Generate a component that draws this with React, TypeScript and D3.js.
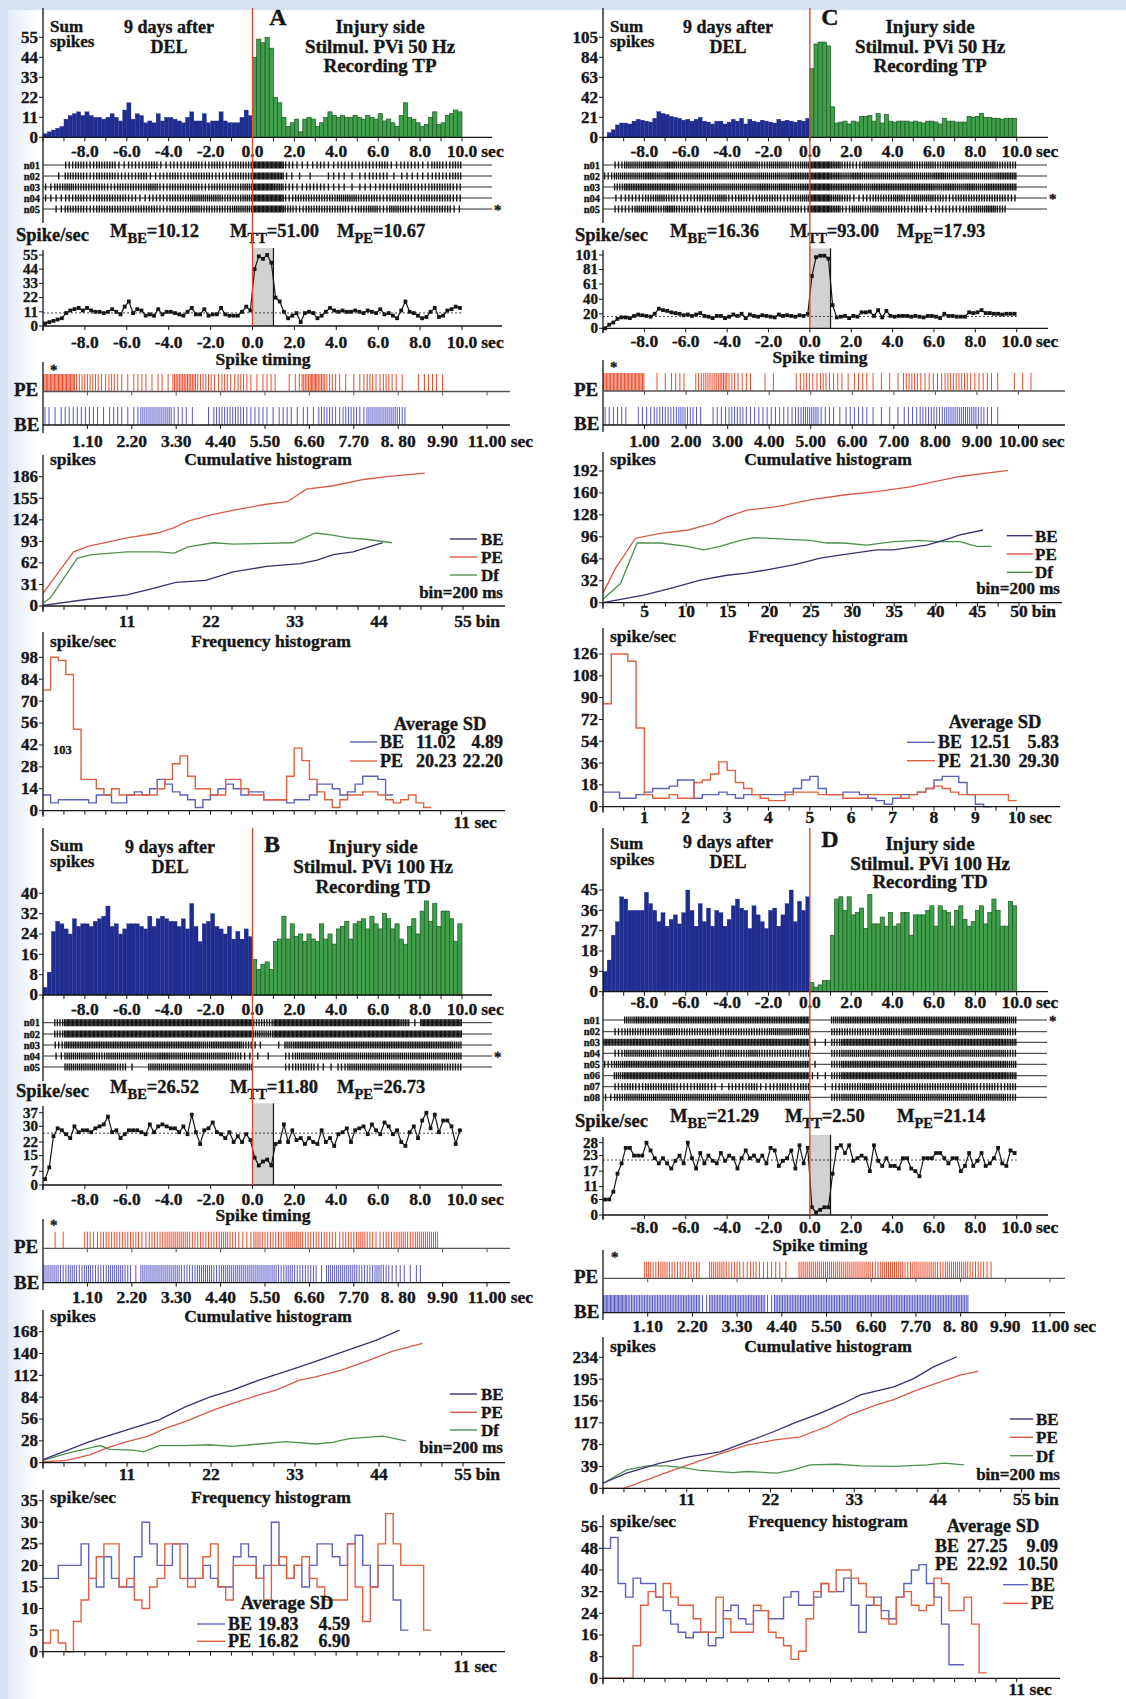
import * as React from "react";
import * as d3 from "d3";

const FONT = "'Liberation Serif', 'Times New Roman', serif";
const INK = "#161616";
const NAVY = "#1f2d8e";
const GREEN = "#3f9f4b";
const GREEN_EDGE = "#1b5a22";
const RED = "#e04a2e";
const TIME_PE = "#ec4b2c";
const TIME_BE = "#5656c6";
const CUM_BE = "#3c2f6e";
const CUM_PE = "#d95a47";
const CUM_DF = "#4f8f4f";
const FREQ_BE = "#5c63b8";
const FREQ_PE = "#e2603e";

// ---- sum-spike histograms, 0.2 s bins from -10 to 10 s
const histA = [
  2, 3, 4, 5, 6, 10, 12, 13, 14, 12, 14, 12, 11, 11, 10, 11, 13, 11, 9, 15,
  19, 10, 13, 12, 8, 9, 8, 13, 9, 11, 11, 10, 9, 8, 11, 14, 9, 9, 13, 8,
  9, 9, 14, 9, 8, 8, 8, 11, 15, 12,
  44, 54, 52, 55, 49, 22, 19, 11, 6, 8, 10, 3, 10, 11, 10, 6, 8, 11, 14, 12,
  11, 12, 11, 11, 12, 11, 10, 12, 11, 10, 13, 9, 10, 8, 6, 12, 19, 11, 10, 8,
  6, 7, 11, 14, 7, 8, 12, 13, 15, 14,
];
const histB = [
  3, 9, 25, 29, 28, 26, 24, 30, 27, 28, 28, 27, 29, 30, 31, 35, 27, 28, 24, 26,
  28, 28, 28, 27, 26, 31, 27, 30, 31, 30, 29, 29, 27, 30, 26, 36, 27, 21, 28, 29,
  32, 27, 26, 24, 27, 22, 25, 22, 26, 23,
  14, 10, 12, 13, 10, 21, 22, 31, 22, 28, 23, 24, 21, 24, 22, 21, 28, 22, 24, 20,
  26, 27, 29, 22, 28, 29, 30, 26, 31, 28, 26, 32, 30, 26, 28, 22, 20, 27, 30, 24,
  33, 37, 29, 36, 27, 33, 33, 30, 21, 28,
];
const histC = [
  0, 5, 8, 13, 15, 15, 14, 17, 19, 18, 17, 16, 20, 27, 25, 24, 22, 21, 20, 18,
  19, 17, 19, 21, 17, 16, 14, 17, 17, 14, 16, 19, 17, 20, 14, 19, 17, 16, 18, 17,
  16, 15, 19, 17, 18, 17, 16, 18, 17, 20,
  72, 98, 100, 100, 96, 32, 15, 16, 17, 14, 17, 16, 22, 22, 23, 17, 25, 15, 24, 17,
  16, 17, 17, 17, 16, 17, 16, 15, 17, 17, 16, 14, 20, 17, 17, 16, 16, 16, 22, 21,
  22, 25, 21, 21, 20, 20, 19, 20, 20, 20,
];
const histD = [
  9, 14, 25, 31, 42, 41, 36, 36, 36, 36, 44, 39, 36, 31, 35, 29, 32, 34, 30, 35,
  45, 36, 29, 39, 31, 37, 29, 36, 35, 29, 32, 38, 41, 37, 36, 28, 38, 34, 31, 28,
  36, 37, 29, 34, 39, 45, 31, 40, 36, 42,
  4, 2, 3, 5, 5, 25, 41, 42, 36, 42, 34, 35, 37, 28, 43, 30, 30, 33, 29, 35,
  29, 30, 35, 35, 25, 34, 34, 34, 36, 38, 29, 38, 36, 35, 29, 36, 38, 32, 29, 31,
  36, 38, 30, 35, 41, 36, 29, 29, 40, 38,
];
// spike/sec of panel D (8 neurons, differs from its sum histogram)
const rateD = [
  6, 6, 9, 16, 20, 26, 26, 23, 23, 23, 28, 25, 22, 20, 22, 20, 18, 21, 23, 20,
  28, 22, 18, 24, 20, 23, 21, 20, 24, 21, 23, 22, 18, 22, 25, 22, 23, 21, 23, 20,
  26, 25, 19, 21, 22, 25, 18, 27, 20, 26,
  3, 1, 2, 3, 3, 16, 26, 27, 24, 27, 21, 22, 23, 22, 17, 27, 21, 19, 22, 19,
  19, 18, 22, 22, 18, 17, 15, 22, 22, 22, 24, 24, 22, 20, 22, 22, 17, 19, 24, 19,
  21, 24, 19, 20, 22, 26, 20, 19, 25, 24,
];

// ---- raster rows: spikes per 0.5 s from -10 to 10 s
const rasterA = [
  "00343442334233434344" + "88832232333342332434",
  "01443443342343443344" + "88721102212331222334",
  "24544434445344434445" + "88632332212233433443",
  "22343444323344555445" + "88834444554434434443",
  "02443444444344544455" + "88843444434535434442",
];
const rasterB = [
  "04888888888888888888" + "44888888888888618888",
  "04888888888888888888" + "55888888888888888888",
  "03666666666666656664" + "20156666666666666665",
  "02555455555655555542" + "11035555555555555555",
  "00555554105555555555" + "00034421355555555544",
];
const rasterC = [
  "03556565555545545545" + "88643555554545555544",
  "35556565555555555566" + "88656555555565555566",
  "04666665555555565656" + "88666566666656565666",
  "02334543344534344345" + "88542344545543444443",
  "03355464434444454443" + "88635454434233345640",
];
const rasterD = [
  "00566666666666666667" + "00566666666666666665",
  "03444454444444445555" + "00444445455555555554",
  "77777777777777777777" + "11477777777777777776",
  "03555455555454544444" + "00455555555555555554",
  "35666666666666666666" + "10466666666666666665",
  "05777777777777777777" + "21477777777777777776",
  "03434443343133423434" + "01344544444444443434",
  "24555555555555555555" + "00455555555555555554",
];

// ---- spike timing: spikes per 0.2 s from 0 to 11 s
const timingA = {
  pe: "66663 33232 12212 15553 32323 21220 12565 32112 32321 01221 00000",
  be: "21222 22122 12444 42210 13333 22212 21213 32332 44443 00000 00000",
};
const timingB = {
  pe: "01100 32333 33233 44433 33432 24333 44333 32334 32334 34440 00000",
  be: "44343 43344 31444 44334 43444 44443 43331 44443 34322 12000 00000",
};
const timingC = {
  pe: "66666 01122 03445 32201 10023 23221 22111 13322 23332 22101 11000",
  be: "22202 23334 32022 33222 22234 42212 22111 12233 34444 32100 00000",
};
const timingD = {
  pe: "00000 43433 33044 33232 22104 44444 44434 44344 43444 33200 00000",
  be: "66655 55555 55255 55555 25555 55555 55555 55555 55555 00000 00000",
};

// ---- cumulative histograms: [bin, spikes]
const cumA_BE = [[0, 1], [5.4, 9], [11, 16], [14.3, 25], [17.4, 34], [21.3, 37], [24.9, 49], [29.3, 57], [33.7, 61], [35.9, 66], [38, 74], [40.6, 78], [44.5, 91]];
const cumA_PE = [[0, 18], [4, 78], [6, 86], [11, 98], [15, 105], [17, 112], [19, 122], [22, 131], [25, 138], [29, 146], [32, 150], [34.5, 168], [38, 173], [42, 182], [45, 186], [50, 191]];
const cumA_DF = [[0, 4], [1, 12], [4.5, 69], [6.4, 74], [11, 78], [15, 78], [17.2, 76], [19, 85], [22.3, 91], [24.9, 89], [29.3, 90], [32.7, 91], [35.7, 105], [37.9, 102], [40, 98], [42.3, 96], [45.7, 91]];
const cumB_BE = [[0, 4], [6.1, 27], [11, 42], [15.2, 55], [18.7, 72], [21.8, 84], [24.8, 93], [28.3, 106], [33, 121], [35.7, 130], [40.1, 145], [43.6, 157], [46.7, 170]];
const cumB_PE = [[0, 1], [3.1, 3], [6.1, 10], [8.7, 20], [11, 27], [13.8, 34], [16, 44], [18.7, 53], [22.2, 67], [24.8, 76], [28.3, 87], [30.5, 93], [33.6, 106], [35.7, 110], [39.2, 119], [42.3, 130], [45.8, 143], [49.7, 153]];
const cumB_DF = [[0, 3], [3.1, 12], [6.6, 20], [7.5, 22], [8.7, 17], [11.8, 16], [13.2, 14], [15.2, 22], [18.3, 22], [21.8, 23], [24.8, 21], [28.3, 24], [31.8, 27], [35.7, 24], [37.9, 26], [40.1, 31], [44.5, 34], [47.5, 28]];
const cumC_BE = [[0, 0], [4.9, 11], [8.1, 21], [11.7, 33], [14.9, 40], [17.3, 43], [19.7, 48], [22.9, 55], [24.5, 60], [26.1, 65], [28.9, 70], [32.9, 77], [34.9, 77], [38.9, 84], [40.9, 91], [42.9, 99], [45.7, 106]];
const cumC_PE = [[0, 14], [1.5, 50], [3.9, 94], [6.9, 101], [10.3, 106], [11.7, 111], [13.3, 116], [14.9, 125], [17.3, 135], [20.9, 140], [24.9, 150], [28.9, 157], [32.9, 162], [36.9, 169], [39.7, 176], [42.9, 184], [48.7, 193]];
const cumC_DF = [[0, 5], [2.1, 28], [4.1, 87], [6.9, 87], [10.1, 82], [12.1, 77], [14.1, 82], [16.5, 91], [18.1, 95], [22.9, 92], [24.9, 91], [26.9, 87], [28.9, 87], [31.7, 84], [34.9, 89], [38.1, 91], [40.1, 89], [42.9, 89], [44.9, 82], [46.7, 82]];
const cumD_BE = [[0, 9], [3.1, 27], [7.5, 45], [11.2, 56], [15.4, 65], [18.9, 83], [22.4, 101], [25, 116], [28.5, 134], [31.6, 152], [33.8, 167], [38.2, 181], [40.8, 196], [43.4, 217], [46.5, 235]];
const cumD_PE = [[0, 0], [2.7, 0], [4, 6], [7.5, 24], [11.2, 42], [15.4, 62], [18.9, 77], [22.4, 86], [25.9, 92], [27.6, 101], [29.4, 110], [32.4, 131], [35.9, 149], [38.1, 158], [40.8, 173], [44.3, 190], [46.9, 202], [49.3, 209]];
const cumD_DF = [[0, 9], [3.1, 33], [5.8, 40], [8.4, 40], [11, 36], [12.7, 32], [17.1, 28], [18.9, 30], [22.8, 27], [25, 33], [27.2, 42], [30.7, 43], [33.8, 40], [38.2, 39], [42.6, 42], [44.8, 45], [47.4, 42]];

// ---- frequency histograms, spike/sec per 0.2 s bin
const freqA_BE = [10, 5, 7, 7, 7, 7, 5, 10, 10, 5, 5, 10, 12, 10, 14, 20, 17, 12, 10, 7, 2, 7, 10, 14, 17, 14, 10, 12, 12, 7, 7, 7, 5, 7, 7, 10, 17, 17, 14, 10, 12, 17, 22, 22, 20, 10];
const freqA_PE = [77, 98, 96, 87, 52, 20, 20, 14, 10, 14, 10, 10, 10, 10, 10, 14, 20, 30, 35, 22, 14, 14, 10, 10, 20, 20, 14, 10, 10, 7, 7, 7, 22, 40, 32, 20, 12, 7, 2, 7, 10, 10, 12, 12, 10, 7, 5, 7, 10, 5, 2];
const freqB_BE = [17, 17, 20, 20, 20, 25, 17, 15, 22, 17, 15, 15, 22, 30, 25, 20, 20, 25, 25, 17, 17, 20, 17, 15, 15, 22, 25, 22, 17, 20, 30, 20, 17, 20, 15, 20, 25, 25, 22, 20, 25, 27, 20, 15, 20, 20, 12, 5];
const freqB_PE = [2, 5, 2, 0, 7, 12, 17, 22, 25, 25, 15, 17, 12, 10, 15, 17, 25, 25, 17, 15, 17, 22, 25, 15, 12, 20, 20, 20, 17, 12, 20, 22, 17, 20, 22, 17, 15, 12, 12, 12, 25, 15, 7, 15, 25, 32, 25, 20, 20, 20, 5];
const freqC_BE = [12, 12, 7, 7, 10, 12, 15, 15, 17, 22, 22, 7, 10, 10, 12, 10, 7, 10, 10, 10, 10, 10, 12, 15, 22, 25, 15, 10, 10, 12, 12, 10, 7, 5, 2, 7, 10, 10, 12, 15, 22, 25, 25, 20, 10, 2, 0];
const freqC_PE = [85, 126, 126, 120, 65, 10, 7, 7, 10, 7, 7, 20, 22, 27, 37, 30, 20, 15, 10, 7, 5, 5, 10, 12, 12, 12, 10, 10, 10, 7, 7, 7, 10, 10, 10, 10, 7, 10, 12, 15, 17, 15, 12, 10, 10, 10, 10, 10, 10, 5];
const freqD_BE = [48, 52, 35, 30, 37, 35, 35, 30, 25, 20, 17, 15, 17, 17, 12, 15, 25, 27, 22, 20, 25, 25, 22, 22, 30, 32, 27, 27, 30, 35, 32, 32, 37, 27, 17, 27, 30, 25, 22, 30, 35, 40, 42, 35, 30, 20, 5, 5];
const freqD_PE = [0, 0, 0, 0, 12, 27, 32, 30, 35, 30, 27, 27, 22, 17, 17, 30, 22, 17, 17, 17, 27, 25, 17, 15, 12, 7, 10, 22, 32, 35, 32, 40, 40, 37, 35, 30, 27, 22, 20, 30, 32, 27, 25, 27, 37, 35, 25, 25, 30, 20, 2];

// ---- tick labels
const histTimeLabels = ["-8.0", "-6.0", "-4.0", "-2.0", "0.0", "2.0", "4.0", "6.0", "8.0", "10.0"];
const timing11Labels = ["1.10", "2.20", "3.30", "4.40", "5.50", "6.60", "7.70", "8. 80", "9.90", "11.00"];
const timing10Labels = ["1.00", "2.00", "3.00", "4.00", "5.00", "6.00", "7.00", "8.00", "9.00", "10.00"];
const rowNames = ["n01", "n02", "n03", "n04", "n05", "n06", "n07", "n08"];

const estW = (s: string, size: number) => {
  let w = 0;
  for (const ch of s) {
    if (/[0-9]/.test(ch)) w += 0.5;
    else if (ch === "." || ch === " ") w += 0.25;
    else if (ch === "-") w += 0.333;
    else w += 0.55;
  }
  return w * size;
};

const spread = (code: string, start: number, span: number) => {
  const out: number[] = [];
  code.replace(/ /g, "").split("").forEach((ch, k) => {
    const n = +ch;
    for (let j = 0; j < n; j++) out.push(start + span * k + ((j + 0.5) * span) / n);
  });
  return out;
};

const Txt = ({ x, y, s = 17.5, a = "start", fill = INK, children }: any) => (
  <text
    x={x}
    y={y}
    fontSize={s}
    textAnchor={a}
    fill={fill}
    stroke={fill}
    strokeWidth={0.35}
    fontFamily={FONT}
    fontWeight={700}
  >
    {children}
  </text>
);

const NumUnit = ({ x, y, num, unit, s = 17.5 }: any) => (
  <g>
    <Txt x={x} y={y} s={s} a="middle">{num}</Txt>
    <Txt x={x + estW(num, s) / 2 + 4} y={y} s={s}>{unit}</Txt>
  </g>
);

const YAxis = ({ x, top, bottom, scale, ticks, s = 17 }: any) => (
  <g>
    <line x1={x} x2={x} y1={top} y2={bottom} stroke={INK} strokeWidth={1.3} />
    {ticks.map((v: number) => (
      <g key={v}>
        <line x1={x - 4} x2={x} y1={scale(v)} y2={scale(v)} stroke={INK} strokeWidth={1} />
        <Txt x={x - 5} y={scale(v) + s * 0.32} s={s} a="end">{v}</Txt>
      </g>
    ))}
  </g>
);

const XBase = ({ x0, x1, y, ticks, color = INK }: any) => (
  <g>
    <line x1={x0} x2={x1} y1={y} y2={y} stroke={color} strokeWidth={1.3} />
    {ticks.map((px: number, i: number) => (
      <line key={i} x1={px} x2={px} y1={y} y2={y + 4} stroke={color} strokeWidth={1} />
    ))}
  </g>
);

const MText = ({ x, y, sub, val }: any) => (
  <text x={x} y={y} fontFamily={FONT} fontWeight={700} fill={INK} stroke={INK} strokeWidth={0.35} fontSize={18.5}>
    M
    <tspan fontSize={14.5} dy={6}>{sub}</tspan>
    <tspan dy={-6}>={val}</tspan>
  </text>
);

function Panel({ p }: any) {
  const t = d3.scaleLinear().domain([-10, 10]).range([p.ax, p.tx1]);
  const hy = d3.scaleLinear().domain([0, p.histMax]).range([p.histBase, p.histMaxY]);
  const bw = t(-9.8) - t(-10);
  const ly = d3.scaleLinear().domain([0, p.lineMax]).range([p.lineBase, p.lineMaxY]);
  const ts = d3.scaleLinear().domain([0, p.tsMax]).range([p.ax, p.tsX1]);
  const cx = d3.scaleLinear().domain([0, p.cumBins]).range([p.ax, p.cumX1]);
  const cy = d3.scaleLinear().domain([0, p.cumMax]).range([p.cumBase, p.cumMaxY]);
  const fx = d3.scaleLinear().domain([0, p.fMax]).range([p.ax, p.fX1]);
  const fy = d3.scaleLinear().domain([0, p.fYMax]).range([p.fBase, p.fYMaxY]);

  const linePts = p.line.map((v: number, i: number) => [t(-9.9 + 0.2 * i), ly(v)] as [number, number]);
  const lineGen = d3.line();
  const cumPath = (d: number[][]) => lineGen(d.map((q) => [cx(q[0]), cy(q[1])] as [number, number])) ?? "";
  const stepGen = d3.line().curve(d3.curveStepAfter);
  const stepPath = (vals: number[]) =>
    stepGen([
      ...vals.map((v, i) => [fx(i * 0.2), fy(v)] as [number, number]),
      [fx(vals.length * 0.2), fy(vals[vals.length - 1])] as [number, number],
    ]) ?? "";

  const histTicks = d3.range(-10, 10.01, 1).map((v) => t(v));
  const rowBottom = p.rowY[p.rowY.length - 1] + 14;
  const peTicks = spread(p.timing.pe, 0, 0.2);
  const beTicks = spread(p.timing.be, 0, 0.2);
  const L = p.cumLeg;
  const F = p.fLeg;

  return (
    <g>
      {/* header */}
      <Txt x={p.colX[0]} y={p.sumY[0]} s={17}>Sum</Txt>
      <Txt x={p.colX[0]} y={p.sumY[1]} s={17}>spikes</Txt>
      <Txt x={p.colX[1]} y={p.daysY[0]} a="middle" s={18}>9 days after</Txt>
      <Txt x={p.colX[1]} y={p.daysY[1]} a="middle" s={18}>DEL</Txt>
      <Txt x={p.colX[2]} y={p.letterY} a="middle" s={24}>{p.letter}</Txt>
      <Txt x={p.colX[3]} y={p.injY[0]} a="middle" s={19}>Injury side</Txt>
      <Txt x={p.colX[3]} y={p.injY[1]} a="middle" s={19}>{`Stilmul. PVi ${p.hz} Hz`}</Txt>
      <Txt x={p.colX[3]} y={p.injY[2]} a="middle" s={19}>{`Recording ${p.rec}`}</Txt>

      {/* sum spikes histogram */}
      {p.hist.map((v: number, i: number) => (
        <rect
          key={i}
          x={t(-10 + 0.2 * i)}
          y={hy(v)}
          width={bw}
          height={p.histBase - hy(v)}
          fill={i < 50 ? NAVY : GREEN}
          stroke={i < 50 ? NAVY : GREEN_EDGE}
          strokeWidth={i < 50 ? 0.3 : 0.7}
        />
      ))}
      <YAxis x={p.ax} top={p.redTop} bottom={rowBottom} scale={hy} ticks={p.histTicks} />
      <XBase x0={p.ax} x1={p.hAxisEnd} y={p.histBase} ticks={histTicks} />
      {histTimeLabels.map((s, i) =>
        i === histTimeLabels.length - 1 ? (
          <NumUnit key={s} x={t(-8 + 2 * i)} y={p.hLabY} num={s} unit="sec" />
        ) : (
          <Txt key={s} x={t(-8 + 2 * i)} y={p.hLabY} a="middle">{s}</Txt>
        ),
      )}

      {/* raster */}
      {p.rows.map((code: string, r: number) => {
        const y = p.rowY[r];
        return (
          <g key={r}>
            <line x1={p.ax} x2={p.rowEnd} y1={y} y2={y} stroke="#2a2a2a" strokeWidth={1} />
            {spread(code, -10, 0.5).map((tt, j) => (
              <line key={j} x1={t(tt)} x2={t(tt)} y1={y - 3.5} y2={y + 3.5} stroke={INK} strokeWidth={1.4} />
            ))}
            <Txt x={p.ax - 3} y={y + 3.5} s={10.5} a="end">{rowNames[r]}</Txt>
            {r === p.starRow && <Txt x={p.starX} y={y + 6} s={15}>*</Txt>}
          </g>
        );
      })}

      {/* spike/sec plot */}
      <Txt x={p.spsXY[0]} y={p.spsXY[1]} s={18.5}>Spike/sec</Txt>
      <MText x={p.mX[0]} y={p.mY} sub="BE" val={p.mVals[0]} />
      <MText x={p.mX[1]} y={p.mY} sub="TT" val={p.mVals[1]} />
      <MText x={p.mX[2]} y={p.mY} sub="PE" val={p.mVals[2]} />
      <rect x={t(0)} y={p.grayTop} width={t(1) - t(0)} height={p.lineBase - p.grayTop} fill="#d2d2d4" />
      <line x1={t(1)} x2={t(1)} y1={p.grayTop} y2={p.lineBase} stroke={INK} strokeWidth={1.2} />
      <line x1={p.ax} x2={t(10)} y1={ly(p.mean)} y2={ly(p.mean)} stroke="#333" strokeWidth={0.9} strokeDasharray="2 2" />
      <path d={lineGen(linePts) ?? ""} fill="none" stroke={INK} strokeWidth={1.2} />
      {linePts.map((q: [number, number], i: number) => (
        <rect key={i} x={q[0] - 1.9} y={q[1] - 1.9} width={3.8} height={3.8} fill={INK} />
      ))}
      <YAxis x={p.ax} top={p.lineTop} bottom={p.lineBase + 5} scale={ly} ticks={p.lineTicks} s={15} />
      <XBase x0={p.ax} x1={p.lAxisEnd} y={p.lineBase} ticks={d3.range(-10, 10.01, 2).map((v) => t(v))} />
      {histTimeLabels.map((s, i) =>
        i === histTimeLabels.length - 1 ? (
          <NumUnit key={s} x={t(-8 + 2 * i)} y={p.lLabY} num={s} unit="sec" />
        ) : (
          <Txt key={s} x={t(-8 + 2 * i)} y={p.lLabY} a="middle">{s}</Txt>
        ),
      )}
      <line x1={t(0)} x2={t(0)} y1={p.redTop} y2={p.lineBase} stroke={RED} strokeWidth={1.4} />

      {/* spike timing */}
      <Txt x={p.tsTitle[0]} y={p.tsTitle[1]} a="middle">Spike timing</Txt>
      <Txt x={p.starXY[0]} y={p.starXY[1]} s={15}>*</Txt>
      {peTicks.map((tt, j) => (
        <line key={"p" + j} x1={ts(tt)} x2={ts(tt)} y1={p.peY[0]} y2={p.peY[1]} stroke={TIME_PE} strokeWidth={1} />
      ))}
      {beTicks.map((tt, j) => (
        <line key={"b" + j} x1={ts(tt)} x2={ts(tt)} y1={p.beY[0]} y2={p.beY[1]} stroke={TIME_BE} strokeWidth={1} />
      ))}
      <line x1={p.ax} x2={p.ax} y1={p.tsTop} y2={p.tsBottom} stroke={INK} strokeWidth={1.3} />
      <XBase x0={p.ax} x1={p.tsAxisEnd} y={p.peY[1]} ticks={p.tsLabels.map((_: string, i: number) => ts((i + 1) * p.tsStep))} color="#555" />
      <XBase x0={p.ax} x1={p.tsAxisEnd} y={p.beY[1]} ticks={p.tsLabels.map((_: string, i: number) => ts((i + 1) * p.tsStep))} />
      <Txt x={p.peLab[0]} y={p.peLab[1]} s={19}>PE</Txt>
      <Txt x={p.beLab[0]} y={p.beLab[1]} s={19}>BE</Txt>
      {p.tsLabels.map((s: string, i: number) =>
        i === p.tsLabels.length - 1 ? (
          <NumUnit key={s} x={ts((i + 1) * p.tsStep)} y={p.tsLabY} num={s} unit="sec" />
        ) : (
          <Txt key={s} x={ts((i + 1) * p.tsStep)} y={p.tsLabY} a="middle">{s}</Txt>
        ),
      )}

      {/* cumulative histogram */}
      <Txt x={p.ax + 7} y={p.cumTitleY}>spikes</Txt>
      <Txt x={p.cumTitleX} y={p.cumTitleY} a="middle">Cumulative histogram</Txt>
      <path d={cumPath(p.cumPE)} fill="none" stroke={CUM_PE} strokeWidth={1.3} />
      <path d={cumPath(p.cumDF)} fill="none" stroke={CUM_DF} strokeWidth={1.3} />
      <path d={cumPath(p.cumBE)} fill="none" stroke={CUM_BE} strokeWidth={1.3} />
      <YAxis x={p.ax} top={p.cumTop} bottom={p.cumBase + 6} scale={cy} ticks={p.cumTicks} />
      <XBase x0={p.ax} x1={p.cumAxisEnd} y={p.cumBase} ticks={d3.range(0, p.cumBins + 0.01, p.cumStep).map((v) => cx(v))} />
      {p.cumLabels.map((v: number) => (
        <Txt key={v} x={cx(v)} y={p.cumLabY} a="middle">{v}</Txt>
      ))}
      <NumUnit x={cx(p.cumBins)} y={p.cumLabY} num={String(p.cumBins)} unit="bin" />
      {[["BE", CUM_BE], ["PE", CUM_PE], ["Df", CUM_DF]].map(([name, c], i) => (
        <g key={name}>
          <line x1={L.x1} x2={L.x2} y1={L.ys[i] - 6} y2={L.ys[i] - 6} stroke={c} strokeWidth={1.4} />
          <Txt x={L.tx} y={L.ys[i]} s={17}>{name}</Txt>
        </g>
      ))}
      <Txt x={L.binX} y={L.binY} a="end" s={17}>bin=200 ms</Txt>

      {/* frequency histogram */}
      <Txt x={p.ax + 7} y={p.fTitleY}>spike/sec</Txt>
      <Txt x={p.fTitleX} y={p.fTitleY} a="middle">Frequency histogram</Txt>
      <path d={stepPath(p.fBE)} fill="none" stroke={FREQ_BE} strokeWidth={1.4} />
      <path d={stepPath(p.fPE)} fill="none" stroke={FREQ_PE} strokeWidth={1.4} />
      <YAxis x={p.ax} top={p.fTop} bottom={p.fBase + 6} scale={fy} ticks={p.fTicks} />
      <XBase x0={p.ax} x1={p.fAxisEnd} y={p.fBase} ticks={d3.range(0, p.fMax + 0.01, p.fStep).map((v) => fx(v))} />
      {p.fLabels.map((v: number) => (
        <Txt key={v} x={fx(v)} y={p.fLabY} a="middle">{v}</Txt>
      ))}
      <NumUnit x={fx(p.fMax)} y={p.fLabY} num={String(p.fMax)} unit="sec" />
      {p.note && <Txt x={p.note[0]} y={p.note[1]} s={12.5}>103</Txt>}
      <Txt x={F.titleX} y={F.titleY} a="middle" s={18.5}>Average SD</Txt>
      {[["BE", FREQ_BE, F.be], ["PE", FREQ_PE, F.pe]].map(([name, c, vals]: any, i) => (
        <g key={name}>
          {F.lx && <line x1={F.lx[0]} x2={F.lx[1]} y1={F.ys[i] - 6} y2={F.ys[i] - 6} stroke={c} strokeWidth={1.4} />}
          <Txt x={F.labX} y={F.ys[i]} s={18}>{name}</Txt>
          <Txt x={F.v1X} y={F.ys[i]} s={18}>{vals[0]}</Txt>
          <Txt x={F.v2X} y={F.ys[i]} s={18} a="end">{vals[1]}</Txt>
        </g>
      ))}
      {F.extra &&
        [["BE", FREQ_BE], ["PE", FREQ_PE]].map(([name, c], i) => (
          <g key={"x" + name}>
            <line x1={F.extra.x1} x2={F.extra.x2} y1={F.extra.ys[i] - 6} y2={F.extra.ys[i] - 6} stroke={c} strokeWidth={1.4} />
            <Txt x={F.extra.tx} y={F.extra.ys[i]} s={18}>{name}</Txt>
          </g>
        ))}
    </g>
  );
}

const specA = {
  letter: "A", hz: "50", rec: "TP", ax: 43, tx1: 462,
  colX: [50, 169, 278, 380], sumY: [32, 47], daysY: [33, 53], letterY: 25, injY: [33, 53, 72], redTop: 8,
  hist: histA, histBase: 137.3, histMax: 55, histMaxY: 37.3, histTicks: [0, 11, 22, 33, 44, 55], hAxisEnd: 492, hLabY: 157,
  rows: rasterA, rowY: [165, 176, 187, 198, 209], starRow: 4, starX: 494, rowEnd: 492,
  line: histA, lineBase: 326, lineMax: 55, lineMaxY: 255, lineTicks: [0, 11, 22, 33, 44, 55], grayTop: 248, lineTop: 250,
  lAxisEnd: 502, lLabY: 348, spsXY: [16, 241], mY: 237, mX: [110, 230, 337], mVals: ["10.12", "51.00", "10.67"], mean: 10.12,
  timing: timingA, tsMax: 11, tsX1: 487, tsStep: 1.1, tsLabels: timing11Labels, tsTitle: [263, 365], starXY: [50, 375],
  peY: [374, 391.5], beY: [407, 425], peLab: [14, 396], beLab: [14, 431], tsLabY: 447, tsAxisEnd: 510, tsTop: 362, tsBottom: 433,
  cumTitleX: 268, cumTitleY: 465, cumBase: 606, cumMax: 186, cumMaxY: 476.7, cumTicks: [0, 31, 62, 93, 124, 155, 186],
  cumBins: 55, cumX1: 463, cumStep: 2.75, cumLabels: [11, 22, 33, 44], cumLabY: 627, cumAxisEnd: 505, cumTop: 455,
  cumBE: cumA_BE, cumPE: cumA_PE, cumDF: cumA_DF,
  cumLeg: { x1: 450, x2: 477, tx: 481, ys: [545, 563, 581], binX: 503, binY: 598 },
  fTitleX: 271, fTitleY: 647, fBase: 810.7, fYMax: 98, fYMaxY: 657.3, fTicks: [0, 14, 28, 42, 56, 70, 84, 98],
  fMax: 11, fX1: 461.7, fStep: 0.55, fLabels: [], fLabY: 828, fAxisEnd: 505, fTop: 632, fBE: freqA_BE, fPE: freqA_PE,
  note: [53, 754],
  fLeg: { titleX: 440, titleY: 730, ys: [748, 767], lx: [350, 377], labX: 380, v1X: 416, v2X: 503, be: ["11.02", "4.89"], pe: ["20.23", "22.20"] },
};

const specB = {
  letter: "B", hz: "100", rec: "TD", ax: 43, tx1: 462,
  colX: [50, 170, 272, 373], sumY: [851, 867], daysY: [853, 873], letterY: 852, injY: [853, 873, 893], redTop: 828,
  hist: histB, histBase: 995, histMax: 40, histMaxY: 893.3, histTicks: [0, 8, 16, 24, 32, 40], hAxisEnd: 492, hLabY: 1015,
  rows: rasterB, rowY: [1022.7, 1034, 1045, 1056, 1067], starRow: 3, starX: 494, rowEnd: 492,
  line: histB, lineBase: 1185, lineMax: 37, lineMaxY: 1112.7, lineTicks: [0, 7, 15, 22, 30, 37], grayTop: 1103.3, lineTop: 1106,
  lAxisEnd: 502, lLabY: 1205, spsXY: [16, 1097], mY: 1093, mX: [110, 230, 337], mVals: ["26.52", "11.80", "26.73"], mean: 26.52,
  timing: timingB, tsMax: 11, tsX1: 487, tsStep: 1.1, tsLabels: timing11Labels, tsTitle: [263, 1221], starXY: [50, 1230],
  peY: [1231.7, 1248.3], beY: [1265, 1282.7], peLab: [14, 1253], beLab: [14, 1289], tsLabY: 1303.3, tsAxisEnd: 510, tsTop: 1219, tsBottom: 1290,
  cumTitleX: 268, cumTitleY: 1321.7, cumBase: 1462.7, cumMax: 168, cumMaxY: 1331.7, cumTicks: [0, 28, 56, 84, 112, 140, 168],
  cumBins: 55, cumX1: 463, cumStep: 2.75, cumLabels: [11, 22, 33, 44], cumLabY: 1480, cumAxisEnd: 505, cumTop: 1310,
  cumBE: cumB_BE, cumPE: cumB_PE, cumDF: cumB_DF,
  cumLeg: { x1: 450, x2: 477, tx: 481, ys: [1400, 1418.3, 1436], binX: 503, binY: 1452.7 },
  fTitleX: 271, fTitleY: 1503.3, fBase: 1651.7, fYMax: 35, fYMaxY: 1500.7, fTicks: [0, 5, 10, 15, 20, 25, 30, 35],
  fMax: 11, fX1: 461.7, fStep: 0.55, fLabels: [], fLabY: 1671.7, fAxisEnd: 505, fTop: 1490, fBE: freqB_BE, fPE: freqB_PE,
  note: null,
  fLeg: { titleX: 287, titleY: 1609.3, ys: [1630, 1647.3], lx: [197, 225], labX: 228, v1X: 258, v2X: 350, be: ["19.83", "4.59"], pe: ["16.82", "6.90"] },
};

const specC = {
  letter: "C", hz: "50", rec: "TP", ax: 603, tx1: 1016.7,
  colX: [610, 728, 830, 930], sumY: [32, 47], daysY: [33, 53], letterY: 25, injY: [33, 53, 72], redTop: 8,
  hist: histC, histBase: 137.3, histMax: 105, histMaxY: 37.3, histTicks: [0, 21, 42, 63, 84, 105], hAxisEnd: 1048, hLabY: 157,
  rows: rasterC, rowY: [165, 176, 187, 198, 209], starRow: 3, starX: 1049, rowEnd: 1047,
  line: histC, lineBase: 328.3, lineMax: 101, lineMaxY: 255, lineTicks: [0, 20, 40, 61, 81, 101], grayTop: 248.3, lineTop: 250,
  lAxisEnd: 1048, lLabY: 347, spsXY: [575, 241], mY: 237, mX: [670, 790, 897], mVals: ["16.36", "93.00", "17.93"], mean: 16.36,
  timing: timingC, tsMax: 10, tsX1: 1018.5, tsStep: 1, tsLabels: timing10Labels, tsTitle: [820, 363], starXY: [610, 372],
  peY: [373, 391], beY: [407, 425], peLab: [574, 396], beLab: [574, 430], tsLabY: 447, tsAxisEnd: 1065, tsTop: 360, tsBottom: 432,
  cumTitleX: 828, cumTitleY: 465, cumBase: 602.7, cumMax: 192, cumMaxY: 471, cumTicks: [0, 32, 64, 96, 128, 160, 192],
  cumBins: 50, cumX1: 1019, cumStep: 2.5, cumLabels: [5, 10, 15, 20, 25, 30, 35, 40, 45], cumLabY: 617, cumAxisEnd: 1062, cumTop: 452,
  cumBE: cumC_BE, cumPE: cumC_PE, cumDF: cumC_DF,
  cumLeg: { x1: 1006.7, x2: 1032.7, tx: 1035, ys: [541.7, 560, 578.3], binX: 1060, binY: 594 },
  fTitleX: 828, fTitleY: 641.7, fBase: 806.7, fYMax: 126, fYMaxY: 654, fTicks: [0, 18, 36, 54, 72, 90, 108, 126],
  fMax: 10, fX1: 1016.7, fStep: 0.5, fLabels: [1, 2, 3, 4, 5, 6, 7, 8, 9], fLabY: 823.3, fAxisEnd: 1060, fTop: 628, fBE: freqC_BE, fPE: freqC_PE,
  note: null,
  fLeg: { titleX: 995, titleY: 728.3, ys: [748.3, 766.7], lx: [907, 935], labX: 938, v1X: 970, v2X: 1059, be: ["12.51", "5.83"], pe: ["21.30", "29.30"] },
};

const specD = {
  letter: "D", hz: "100", rec: "TD", ax: 603, tx1: 1016.7,
  colX: [610, 728, 830, 930], sumY: [849, 865], daysY: [848, 868], letterY: 847, injY: [850, 870, 888], redTop: 828,
  hist: histD, histBase: 991.7, histMax: 45, histMaxY: 890, histTicks: [0, 9, 18, 27, 36, 45], hAxisEnd: 1048, hLabY: 1008.3,
  rows: rasterD, rowY: [1020, 1031.7, 1042.3, 1053.3, 1064.3, 1075.7, 1086.7, 1097.3], starRow: 0, starX: 1049, rowEnd: 1047,
  line: rateD, lineBase: 1215, lineMax: 28, lineMaxY: 1142.7, lineTicks: [0, 6, 11, 17, 23, 28], grayTop: 1135, lineTop: 1137,
  lAxisEnd: 1048, lLabY: 1233.3, spsXY: [575, 1127], mY: 1122, mX: [670, 785, 897], mVals: ["21.29", "2.50", "21.14"], mean: 21.29,
  timing: timingD, tsMax: 11, tsX1: 1050, tsStep: 1.1, tsLabels: timing11Labels, tsTitle: [820, 1250.7], starXY: [611, 1262],
  peY: [1261.7, 1278.3], beY: [1295, 1312.7], peLab: [574, 1283], beLab: [574, 1318], tsLabY: 1331.7, tsAxisEnd: 1065, tsTop: 1250, tsBottom: 1320,
  cumTitleX: 828, cumTitleY: 1351.7, cumBase: 1488.3, cumMax: 234, cumMaxY: 1357.3, cumTicks: [0, 39, 78, 117, 156, 195, 234],
  cumBins: 55, cumX1: 1021.7, cumStep: 2.75, cumLabels: [11, 22, 33, 44], cumLabY: 1505, cumAxisEnd: 1060, cumTop: 1337,
  cumBE: cumD_BE, cumPE: cumD_PE, cumDF: cumD_DF,
  cumLeg: { x1: 1010, x2: 1033, tx: 1036, ys: [1425, 1443.3, 1461.7], binX: 1060, binY: 1479.5 },
  fTitleX: 828, fTitleY: 1526.7, fBase: 1678.3, fYMax: 56, fYMaxY: 1526.7, fTicks: [0, 8, 16, 24, 32, 40, 48, 56],
  fMax: 11, fX1: 1016.7, fStep: 0.55, fLabels: [], fLabY: 1695, fAxisEnd: 1060, fTop: 1515, fBE: freqD_BE, fPE: freqD_PE,
  note: null,
  fLeg: {
    titleX: 993, titleY: 1531.7, ys: [1551.7, 1570], lx: null, labX: 935, v1X: 967, v2X: 1058,
    be: ["27.25", "9.09"], pe: ["22.92", "10.50"],
    extra: { x1: 1003, x2: 1028, tx: 1031, ys: [1590.7, 1609.3] },
  },
};

export default function App() {
  return (
    <div style={{ position: "absolute", left: 0, top: 0 }}>
      <svg width={1126} height={1699} viewBox="0 0 1126 1699" style={{ display: "block" }}>
        <defs>
          <linearGradient id="edge" x1="0" x2="1" y1="0" y2="0">
            <stop offset="0" stopColor="#e3ebf7" />
            <stop offset="1" stopColor="#ffffff" />
          </linearGradient>
        </defs>
        <rect x={0} y={0} width={1126} height={1699} fill="#d6e1f2" />
        <rect x={8} y={10} width={1118} height={1689} fill="#ffffff" />
        <rect x={8} y={10} width={30} height={1689} fill="url(#edge)" />
        <Panel p={specA} />
        <Panel p={specB} />
        <Panel p={specC} />
        <Panel p={specD} />
      </svg>
    </div>
  );
}
